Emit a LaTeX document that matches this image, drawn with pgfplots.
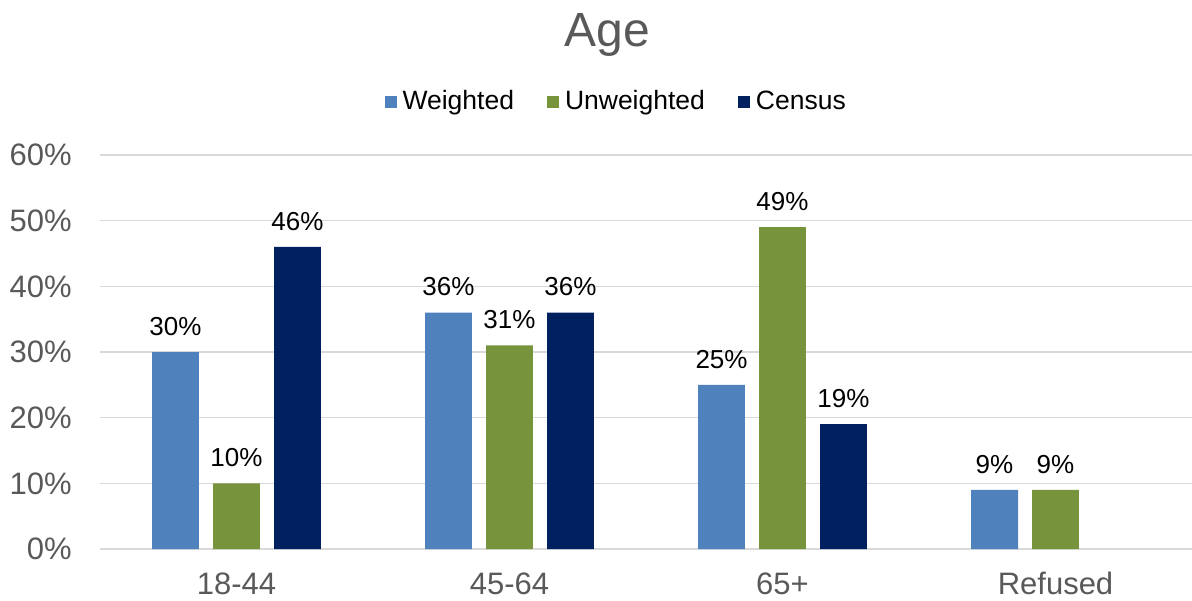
\documentclass[border=0pt]{standalone}
\usepackage{pgfplots}
\pgfplotsset{compat=1.18}
\usepackage{fontspec}
\setmainfont{Liberation Sans}
\definecolor{cW}{HTML}{4F81BD}
\definecolor{cU}{HTML}{77933C}
\definecolor{cC}{HTML}{002060}
\definecolor{gridc}{HTML}{D9D9D9}
\definecolor{tickc}{HTML}{595959}
\begin{document}
\begin{tikzpicture}
\path[use as bounding box] (-50pt,-25.5pt) rectangle (546pt,274.5pt);
\begin{axis}[
  scale only axis, width=546pt, height=197pt,
  xmin=-0.5, xmax=3.5, ymin=0, ymax=60,
  ybar, bar width=0.172,
  xtick={0,1,2,3}, xticklabels={18-44,45-64,65+,Refused},
  ytick={0,10,20,30,40,50,60},
  yticklabels={0\%,10\%,20\%,30\%,40\%,50\%,60\%},
  ymajorgrids, xmajorgrids=false,
  grid style={draw=gridc, line width=0.75pt},
  axis line style={draw=none},
  major tick length=0pt,
  tick label style={font=\fontsize{15.5}{18}\selectfont, text=tickc, inner sep=0pt},
  yticklabel style={xshift=-14pt},
  xticklabel style={yshift=-11.5pt},
  /pgf/number format/assume math mode=true,
  nodes near coords={\pgfmathprintnumber{\pgfplotspointmeta}\%},
  every node near coord/.append style={font=\fontsize{13}{15}\selectfont, text=black, anchor=south, inner sep=0pt, yshift=8pt},
  legend columns=3,
  legend style={draw=none, fill=none, at={(0.4736,1.135)}, anchor=center,
    font=\fontsize{13.25}{15}\selectfont, text=black,
    /tikz/every even column/.append style={column sep=14.5pt},
    /tikz/every odd column/.append style={column sep=1pt}},
  legend image code/.code={\fill[#1] (0pt,-3pt) rectangle (6pt,3pt);},
]
\addplot[fill=cW, draw=none, bar shift=0pt] coordinates {(-0.2234,30) (0.7766,36) (1.7766,25) (2.7766,9)};
\addplot[fill=cU, draw=none, bar shift=0pt] coordinates {(0,10) (1,31) (2,49) (3,9)};
\addplot[fill=cC, draw=none, bar shift=0pt] coordinates {(0.2234,46) (1.2234,36) (2.2234,19)};
\legend{Weighted,Unweighted,Census}
\end{axis}
\node[font=\fontsize{24}{28}\selectfont, text=tickc, anchor=base] at (253.75pt,251pt) {Age};
\end{tikzpicture}
\end{document}
